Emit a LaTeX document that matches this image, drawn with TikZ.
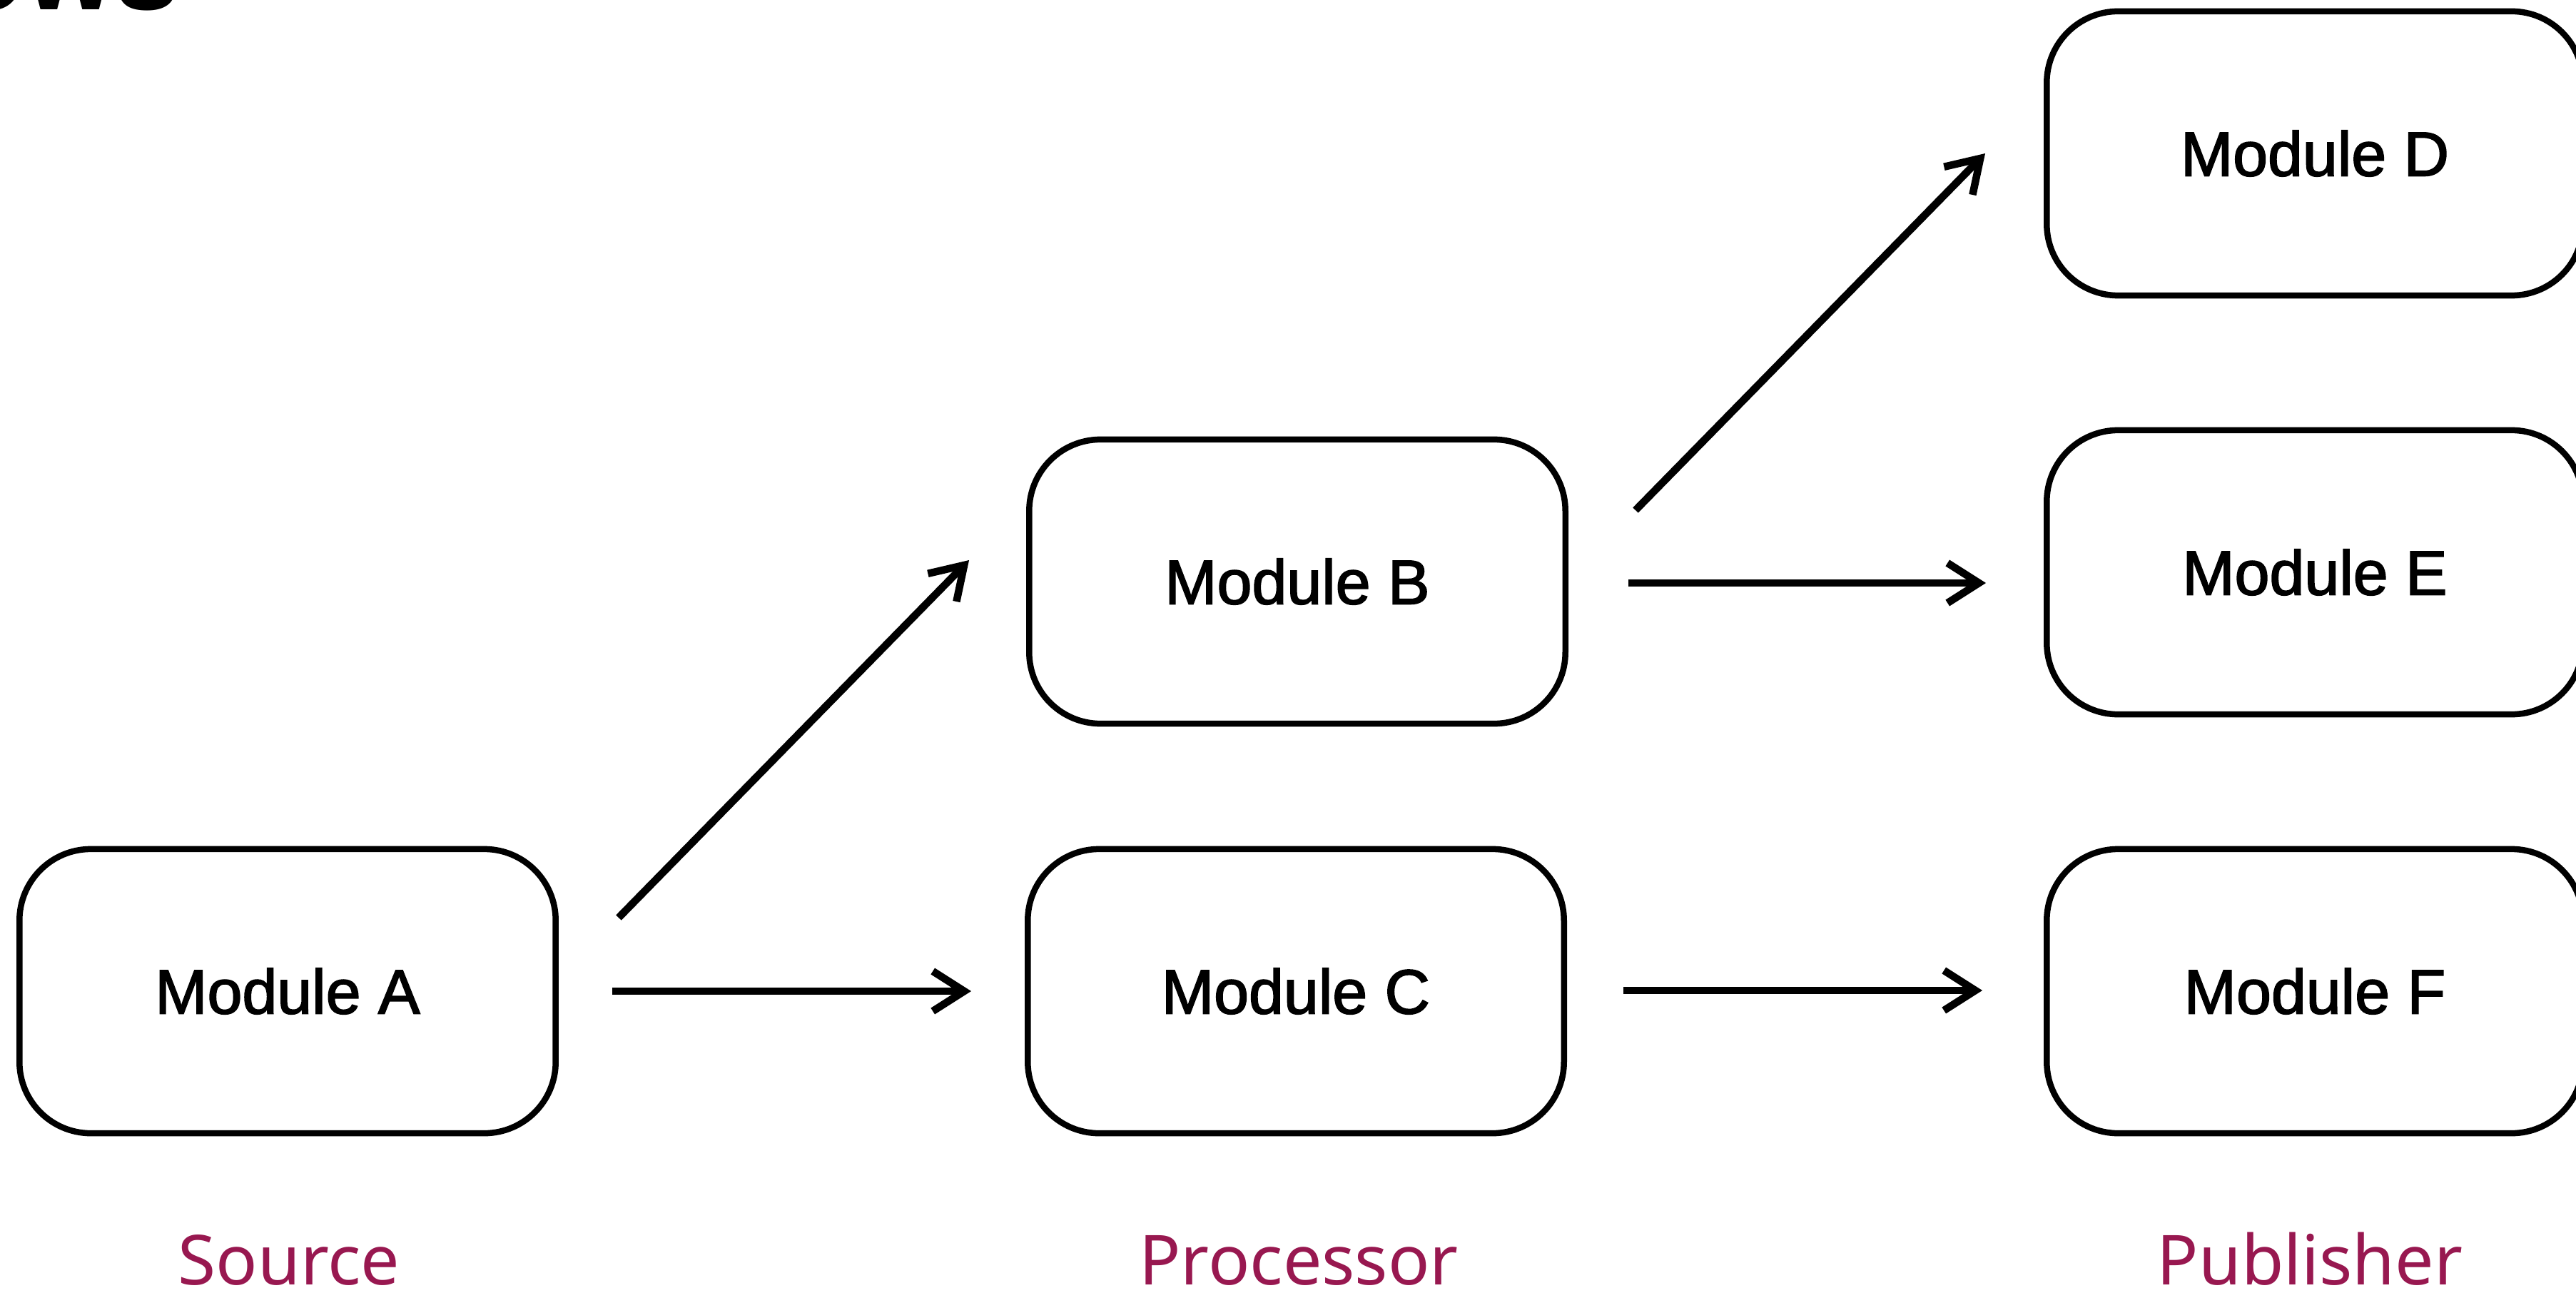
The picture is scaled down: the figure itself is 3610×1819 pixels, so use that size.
\documentclass[tikz,border=0pt]{standalone}
\usepackage{fontspec}
\setmainfont{Liberation Sans}
\newfontfamily\modfont{Liberation Sans}[FakeBold=2]
\newfontfamily\handfont{Noto Sans}
\usetikzlibrary{arrows.meta,calc}
\definecolor{tierred}{RGB}{152,24,80}

\begin{document}
\begin{tikzpicture}[x=0.01cm,y=-0.01cm,
  module/.style={draw=black, line width=0.085cm, rounded corners=1cm,
    minimum width=7.51cm, minimum height=3.98cm, inner sep=0pt,
    font=\modfont\fontsize{25}{28}\selectfont},
  flow/.style={line width=0.105cm,
    -{Straight Barb[sharp,length=0.44cm,width=0.56cm]}},
  tier/.style={text=tierred, font=\handfont\fontsize{27.5}{30}\selectfont,
    anchor=base, inner sep=0pt},
  heading/.style={font=\bfseries\fontsize{46}{50}\selectfont,
    anchor=base east, inner sep=0pt}]

\useasboundingbox (0,0) rectangle (3610,1819);

% page heading, running off the top edge
\node[heading] (head) at (252,14) {ows};

% modules
\node[module] (A) at (403,1389) {Module A};
\node[module] (B) at (1818,815) {Module B};
\node[module] (C) at (1816,1389) {Module C};
\node[module] (D) at (3244,215) {Module D};
\node[module] (E) at (3244,802) {Module E};
\node[module] (F) at (3244,1389) {Module F};

% data flow between modules
\draw[flow] ($(A.east)+(75,0)$) -- ($(C.west)+(-75,0)$);
\draw[flow] ($(A.east)+(84,-103)$) -- ($(B.west)+(-80,-30)$);
\draw[flow] ($(B.east)+(84,2)$) -- ($(E.west)+(-81,15)$);
\draw[flow] ($(B.east)+(94,-100)$) -- ($(D.west)+(-82,0)$);
\draw[flow] ($(C.east)+(79,-1)$) -- ($(F.west)+(-86,-1)$);

% tier captions
\node[tier] (src) at (405,1800) {Source};
\node[tier] (proc) at (1820,1800) {Processor};
\node[tier] (pub) at (3237,1800) {Publisher};
\end{tikzpicture}
\end{document}
